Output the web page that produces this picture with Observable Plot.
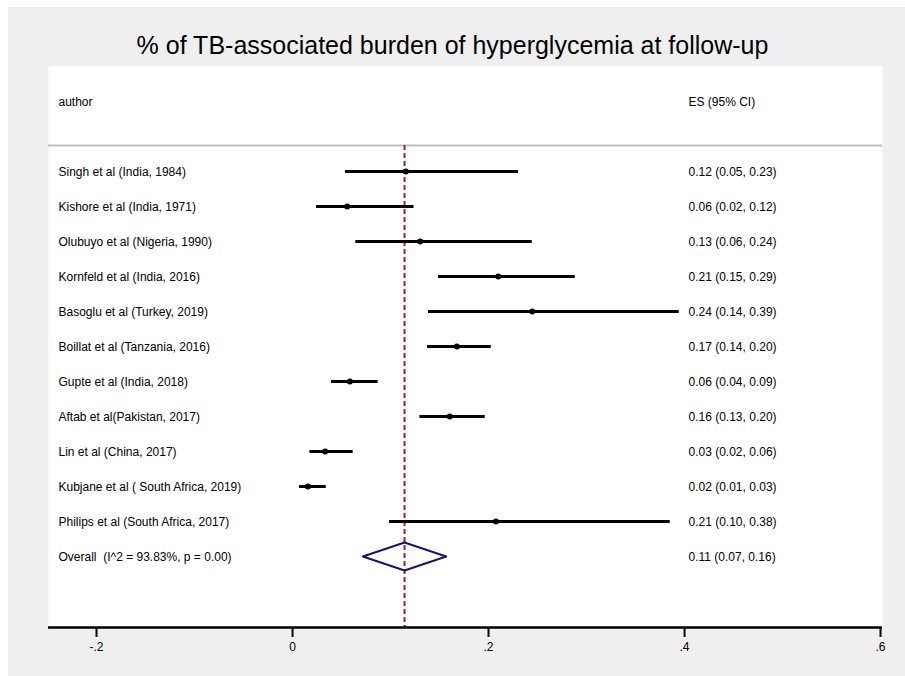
<!DOCTYPE html>
<html>
<head>
<meta charset="utf-8">
<script src="https://cdn.jsdelivr.net/npm/d3@7"></script>
<script src="https://cdn.jsdelivr.net/npm/@observablehq/plot@0.6"></script>
<style>
  body { margin: 0; background: #ffffff; font-family: "Liberation Sans", Arial, Helvetica, sans-serif; }
  #wrap { position: relative; width: 905px; height: 676px; overflow: hidden; background: #ffffff; }
  #bg { position: absolute; left: 8px; top: 7px; width: 897px; height: 669px; background: #efefef; }
  #title { position: absolute; left: 0; top: 29px; width: 905px; text-align: center; font-size: 25px; line-height: 32px; color: #000; }
  #chart { position: absolute; left: 0; top: 0; }
  #chart svg { background: transparent !important; }
</style>
</head>
<body>
<div id="wrap">
  <div id="bg"></div>
  <div id="chart"></div>
  <div id="title">% of TB-associated burden of hyperglycemia at follow-up</div>
</div>
<script>
// ---- data ----
const authors = [
  "Singh et al (India, 1984)",
  "Kishore et al (India, 1971)",
  "Olubuyo et al (Nigeria, 1990)",
  "Kornfeld et al (India, 2016)",
  "Basoglu et al (Turkey, 2019)",
  "Boillat et al (Tanzania, 2016)",
  "Gupte et al (India, 2018)",
  "Aftab et al(Pakistan, 2017)",
  "Lin et al (China, 2017)",
  "Kubjane et al ( South Africa, 2019)",
  "Philips et al (South Africa, 2017)"
];
const es = [0.1156, 0.0558, 0.1303, 0.2099, 0.2446, 0.1677, 0.0585, 0.1605, 0.0333, 0.0156, 0.2075];
const lo = [0.054, 0.0245, 0.0646, 0.149, 0.1388, 0.1378, 0.0398, 0.130, 0.0177, 0.0071, 0.099];
const hi = [0.2306, 0.124, 0.2446, 0.2885, 0.3946, 0.2028, 0.0874, 0.1966, 0.0619, 0.0344, 0.3854];
const esLabels = [
  "0.12 (0.05, 0.23)", "0.06 (0.02, 0.12)", "0.13 (0.06, 0.24)", "0.21 (0.15, 0.29)",
  "0.24 (0.14, 0.39)", "0.17 (0.14, 0.20)", "0.06 (0.04, 0.09)", "0.16 (0.13, 0.20)",
  "0.03 (0.02, 0.06)", "0.02 (0.01, 0.03)", "0.21 (0.10, 0.38)"
];
const overallLabel = "Overall  (I^2 = 93.83%, p = 0.00)";
const overallES = 0.1143;
const overallLo = 0.0718;
const overallHi = 0.1568;
const overallText = "0.11 (0.07, 0.16)";
const headerAuthor = "author";
const headerES = "ES (95% CI)";
const xTicks = [-0.2, 0, 0.2, 0.4, 0.6];
const xTickLabels = ["-.2", "0", ".2", ".4", ".6"];

// ---- layout in row units ----
const headerRow = -2;
const sepRow = -0.743;
const overallRow = authors.length;
const yMin = -3, yMax = 13.0286;

const studies = authors.map((a, i) => ({row: i, author: a, es: es[i], lo: lo[i], hi: hi[i], label: esLabels[i]}));
const diamondH = 0.4;
const diamond = [
  {x: overallLo, y: overallRow},
  {x: overallES, y: overallRow - diamondH},
  {x: overallHi, y: overallRow},
  {x: overallES, y: overallRow + diamondH},
  {x: overallLo, y: overallRow}
];
const leftTexts = [
  {row: headerRow, t: headerAuthor},
  ...studies.map(d => ({row: d.row, t: d.author})),
  {row: overallRow, t: overallLabel}
];
const rightTexts = [
  {row: headerRow, t: headerES},
  ...studies.map(d => ({row: d.row, t: d.label})),
  {row: overallRow, t: overallText}
];

const font = "Liberation Sans, Arial, Helvetica, sans-serif";

const chart = Plot.plot({
  width: 905,
  height: 676,
  marginLeft: 48,
  marginRight: 23,
  marginTop: 66,
  marginBottom: 49,
  style: {background: "transparent", fontFamily: font, fontSize: "12px", color: "#000"},
  x: {domain: [-0.249, 0.602]},
  y: {domain: [yMin, yMax], reverse: true, axis: null},
  marks: [
    Plot.frame({fill: "white", stroke: null}),
    Plot.ruleY([sepRow], {stroke: "#bdbdbd", strokeWidth: 2}),
    Plot.ruleX([overallES], {y1: sepRow, y2: yMax, stroke: "#8c2a30", strokeWidth: 2, strokeDasharray: "5,3"}),
    Plot.ruleY(studies, {y: "row", x1: "lo", x2: "hi", stroke: "black", strokeWidth: 3}),
    Plot.dot(studies, {x: "es", y: "row", r: 3, fill: "black", stroke: "none"}),
    Plot.line(diamond, {x: "x", y: "y", stroke: "#15166f", strokeWidth: 2}),
    Plot.text(leftTexts, {y: "row", text: "t", frameAnchor: "left", dx: 10, dy: 1, textAnchor: "start", fill: "black", fontSize: 12}),
    Plot.text(rightTexts, {y: "row", text: "t", frameAnchor: "right", dx: -194, dy: 1, textAnchor: "start", fill: "black", fontSize: 12}),
    Plot.ruleY([yMax], {stroke: "black", strokeWidth: 2.5}),
    Plot.axisX({ticks: xTicks, tickFormat: (d) => xTickLabels[xTicks.indexOf(d)], tickSize: 10, tickPadding: 5, strokeWidth: 2, label: null, fontSize: 12, fill: "black"})
  ]
});
document.getElementById("chart").appendChild(chart);
</script>
</body>
</html>
